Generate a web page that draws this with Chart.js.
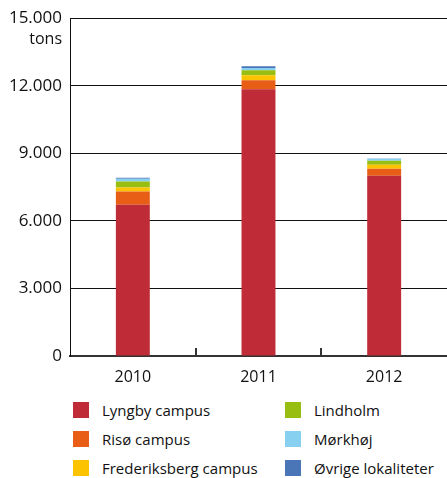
<!DOCTYPE html>
<html>
<head>
<meta charset="utf-8">
<script src="https://cdn.jsdelivr.net/npm/chart.js@4"></script>
<style>
    html, body { margin: 0; padding: 0; background: #fff; }
    #wrap { position: relative; width: 447px; height: 478px; }
    #chart { position: absolute; left: 0; top: 0; }
    #legend {
        position: absolute; left: 73px; top: 401px;
        display: grid; grid-template-columns: 212px 150px;
        grid-template-rows: repeat(3, 29px); grid-auto-flow: column;
        font-family: "Open Sans", sans-serif; font-size: 15px; color: #111;
    }
    #legend .item { display: flex; align-items: center; height: 17px; }
    #legend .box { width: 16px; height: 16px; margin-right: 13px; flex: none; }
</style>
</head>
<body>
<div id="wrap">
    <canvas id="chart" width="447" height="390"></canvas>
    <div id="legend"></div>
</div>
<script>
// Years on the x axis
const years = ['2010', '2011', '2012'];

// Waste per location, tons
const lyngby = [6720, 11850, 8000];
const riso = [580, 400, 310];
const frederiksberg = [180, 220, 180];
const lindholm = [265, 220, 175];
const morkhoj = [130, 100, 90];
const ovrige = [45, 75, 10];

const seriesNames = ['Lyngby campus', 'Risø campus', 'Frederiksberg campus',
    'Lindholm', 'Mørkhøj', 'Øvrige lokaliteter'];
const seriesColors = ['#BF2B37', '#E95E16', '#FBC300', '#98BE12', '#88D0F0', '#4A75B7'];

const yTicks = [0, 3000, 6000, 9000, 12000, 15000];

/**
 * Format a number with a dot as thousands separator
 */
function formatTons(value) {
    'use strict';
    return String(value).replace(/\B(?=(\d{3})+(?!\d))/g, '.');
}

// Unit label under the top tick
const pluginUnit = {
    id: 'unitLabel',
    afterDraw: function(chart) {
        const ctx = chart.ctx;
        const y = chart.scales.y;
        ctx.save();
        ctx.font = '16px "Open Sans", sans-serif';
        ctx.fillStyle = '#111';
        ctx.textAlign = 'right';
        ctx.textBaseline = 'middle';
        ctx.fillText('tons', y.right - 8, y.getPixelForValue(15000) + 21);
        ctx.restore();
    },
};

// Short upward ticks between the year categories
const pluginDividers = {
    id: 'dividers',
    afterDraw: function(chart) {
        const ctx = chart.ctx;
        const x = chart.scales.x;
        const bottom = chart.chartArea.bottom;
        ctx.save();
        ctx.strokeStyle = '#333';
        ctx.lineWidth = 2;
        for (let i = 0; i < years.length - 1; ++i) {
            const px = Math.round((x.getPixelForValue(i) + x.getPixelForValue(i + 1)) / 2);
            ctx.beginPath();
            ctx.moveTo(px, bottom);
            ctx.lineTo(px, bottom - 8);
            ctx.stroke();
        }
        ctx.restore();
    },
};

const values = [lyngby, riso, frederiksberg, lindholm, morkhoj, ovrige];
const datasets = [];
for (let i = 0; i < values.length; ++i) {
    datasets.push({
        label: seriesNames[i],
        data: values[i],
        backgroundColor: seriesColors[i],
        borderWidth: 0,
        barPercentage: 0.27,
        categoryPercentage: 1,
    });
}

new Chart(document.getElementById('chart'), {
    type: 'bar',
    data: {labels: years, datasets: datasets},
    options: {
        responsive: false,
        animation: false,
        layout: {padding: {top: 18, right: 0, left: 0, bottom: 0}},
        plugins: {
            legend: {display: false},
            tooltip: {enabled: false},
        },
        scales: {
            x: {
                stacked: true,
                grid: {display: false, drawTicks: false},
                border: {display: true, color: '#333', width: 2},
                ticks: {
                    padding: 12,
                    color: '#111',
                    font: {family: 'Open Sans', size: 16},
                },
                afterFit: function(scale) {
                    scale.height = 34;
                },
            },
            y: {
                stacked: true,
                min: 0,
                max: 15000,
                afterBuildTicks: function(scale) {
                    scale.ticks = yTicks.map((v) => ({value: v}));
                },
                grid: {color: '#111', lineWidth: 1, drawTicks: false},
                border: {display: true, color: '#111', width: 1},
                ticks: {
                    padding: 8,
                    color: '#111',
                    font: {family: 'Open Sans', size: 17},
                    callback: formatTons,
                },
                afterFit: function(scale) {
                    scale.width = 70;
                },
            },
        },
    },
    plugins: [pluginUnit, pluginDividers],
});

// Legend in two columns, filled top to bottom
const legend = document.getElementById('legend');
for (let i = 0; i < seriesNames.length; ++i) {
    const item = document.createElement('div');
    item.className = 'item';
    const box = document.createElement('span');
    box.className = 'box';
    box.style.background = seriesColors[i];
    const text = document.createElement('span');
    text.textContent = seriesNames[i];
    item.appendChild(box);
    item.appendChild(text);
    legend.appendChild(item);
}
</script>
</body>
</html>
